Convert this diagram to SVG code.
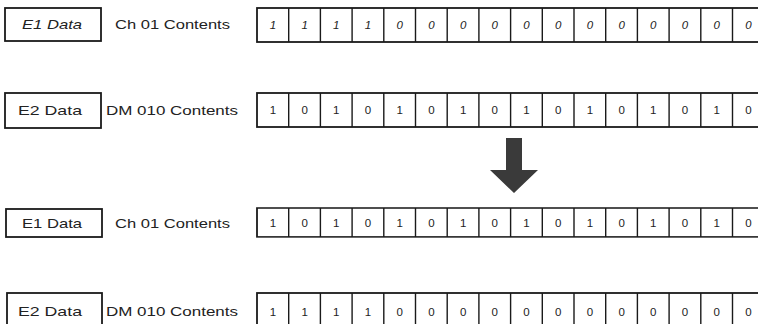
<svg xmlns="http://www.w3.org/2000/svg" width="758" height="324" viewBox="0 0 758 324">
<style>
.box{fill:#fff;stroke:#1a1a1a;stroke-width:1.8}
.lbl{font-family:"Liberation Sans",Arial,sans-serif;font-size:13px;fill:#222}
.cap{font-family:"Liberation Sans",Arial,sans-serif;font-size:13.5px;fill:#222}
.bit{font-family:"Liberation Sans",Arial,sans-serif;font-size:11.5px;fill:#222;text-anchor:middle}
.it{font-style:italic}
.arrow{fill:#3a3a3a}
</style>
<defs>
<g id="cells">
<rect class="box" x="257" y="0" width="520" height="34"/>
<path d="M288.7 0V34M320.4 0V34M352.1 0V34M383.8 0V34M415.5 0V34M447.2 0V34M478.9 0V34M510.6 0V34M542.3 0V34M574 0V34M605.7 0V34M637.4 0V34M669.1 0V34M700.8 0V34M732.5 0V34" stroke="#1a1a1a" stroke-width="1.4" fill="none"/>
</g>
</defs>
<rect width="758" height="324" fill="#fff"/>

<g id="row1">
<g id="e1-data-1"><rect class="box" x="5" y="8" width="96" height="33"/><text class="lbl it" x="22" y="29" textLength="60" lengthAdjust="spacingAndGlyphs">E1 Data</text></g>
<text class="cap" x="115" y="29" textLength="115" lengthAdjust="spacingAndGlyphs">Ch 01 Contents</text>
<g id="bits-1" transform="translate(0,8)">
<use href="#cells"/>
<g class="bit it" transform="translate(0,21)">
<text x="272.9">1</text><text x="304.6">1</text><text x="336.3">1</text><text x="368">1</text>
<text x="399.7">0</text><text x="431.4">0</text><text x="463.1">0</text><text x="494.8">0</text>
<text x="526.5">0</text><text x="558.2">0</text><text x="589.9">0</text><text x="621.6">0</text>
<text x="653.3">0</text><text x="685">0</text><text x="716.7">0</text><text x="748.4">0</text>
</g>
</g>
</g>

<g id="row2">
<g id="e2-data-1"><rect class="box" x="5" y="93" width="96" height="35"/><text class="lbl" x="18" y="115" textLength="64" lengthAdjust="spacingAndGlyphs">E2 Data</text></g>
<text class="cap" x="106" y="115" textLength="132" lengthAdjust="spacingAndGlyphs">DM 010 Contents</text>
<g id="bits-2" transform="translate(0,93)">
<use href="#cells"/>
<g class="bit" transform="translate(0,21)">
<text x="272.9">1</text><text x="304.6">0</text><text x="336.3">1</text><text x="368">0</text>
<text x="399.7">1</text><text x="431.4">0</text><text x="463.1">1</text><text x="494.8">0</text>
<text x="526.5">1</text><text x="558.2">0</text><text x="589.9">1</text><text x="621.6">0</text>
<text x="653.3">1</text><text x="685">0</text><text x="716.7">1</text><text x="748.4">0</text>
</g>
</g>
</g>

<g id="connectors">
<polygon class="arrow" points="506,138 522,138 522,170 538,170 514,193 490,170 506,170"/>
</g>

<g id="row3">
<g id="e1-data-2"><rect class="box" x="6" y="209" width="96" height="28"/><text class="lbl" x="22" y="228" textLength="60" lengthAdjust="spacingAndGlyphs">E1 Data</text></g>
<text class="cap" x="115" y="228" textLength="115" lengthAdjust="spacingAndGlyphs">Ch 01 Contents</text>
<g id="bits-3" transform="translate(0,208)">
<use href="#cells" transform="scale(1,0.85)"/>
<g class="bit" transform="translate(0,19)">
<text x="272.9">1</text><text x="304.6">0</text><text x="336.3">1</text><text x="368">0</text>
<text x="399.7">1</text><text x="431.4">0</text><text x="463.1">1</text><text x="494.8">0</text>
<text x="526.5">1</text><text x="558.2">0</text><text x="589.9">1</text><text x="621.6">0</text>
<text x="653.3">1</text><text x="685">0</text><text x="716.7">1</text><text x="748.4">0</text>
</g>
</g>
</g>

<g id="row4">
<g id="e2-data-2"><rect class="box" x="7" y="293" width="95" height="36"/><text class="lbl" x="18" y="316" textLength="64" lengthAdjust="spacingAndGlyphs">E2 Data</text></g>
<text class="cap" x="106" y="316" textLength="132" lengthAdjust="spacingAndGlyphs">DM 010 Contents</text>
<g id="bits-4" transform="translate(0,293)">
<use href="#cells"/>
<g class="bit" transform="translate(0,23)">
<text x="272.9">1</text><text x="304.6">1</text><text x="336.3">1</text><text x="368">1</text>
<text x="399.7">0</text><text x="431.4">0</text><text x="463.1">0</text><text x="494.8">0</text>
<text x="526.5">0</text><text x="558.2">0</text><text x="589.9">0</text><text x="621.6">0</text>
<text x="653.3">0</text><text x="685">0</text><text x="716.7">0</text><text x="748.4">0</text>
</g>
</g>
</g>
</svg>
